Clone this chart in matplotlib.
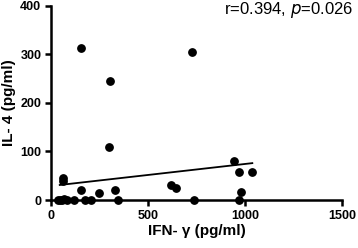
import numpy as np
from matplotlib import pyplot as plt

plt.rcParams['font.family'] = ['Liberation Sans', 'DejaVu Sans']

# IFN-gamma vs IL-4 (pg/ml)
ifn = [154, 306, 300, 727, 64, 64, 945, 970, 1038, 980, 970, 737, 617, 642,
       331, 344, 249, 154, 176, 205, 119, 85, 59, 38, 69, 45]
il4 = [314, 246, 110, 306, 45, 40, 81, 58, 57, 17, 0, 0, 31, 24,
       20, 0, 15, 20, 0, 0, 0, 0, 0, 0, 3, 0]

fit_x = [45, 1038]
fit_y = [31, 76]

fig = plt.figure(figsize=(3.58, 2.48), dpi=100)
ax = fig.add_axes([0.1425, 0.1935, 0.8125, 0.7825])

ax.scatter(ifn, il4, s=28, color='black', zorder=3, clip_on=False)
ax.plot(fit_x, fit_y, color='black', lw=1.3)

ax.set_xlim(0, 1500)
ax.set_ylim(0, 400)
ax.set_xticks([0, 500, 1000, 1500])
ax.set_yticks([0, 100, 200, 300, 400])
for s in ['top', 'right']:
    ax.spines[s].set_visible(False)
for s in ['left', 'bottom']:
    ax.spines[s].set_linewidth(1.8)
ax.tick_params(width=1.8, length=4.5, labelsize=9, pad=2.5)
for lab in ax.get_xticklabels() + ax.get_yticklabels():
    lab.set_fontweight('bold')

ax.set_xlabel('IFN- γ (pg/ml)', fontsize=11, fontweight='bold', labelpad=1.5)
ax.set_ylabel('IL- 4 (pg/ml)', fontsize=11, fontweight='bold', labelpad=3)

fig.text(0.986, 0.998, r'r=0.394, $\it{p}$=0.026', ha='right', va='top', fontsize=12)

plt.savefig('out.png', dpi=100)
